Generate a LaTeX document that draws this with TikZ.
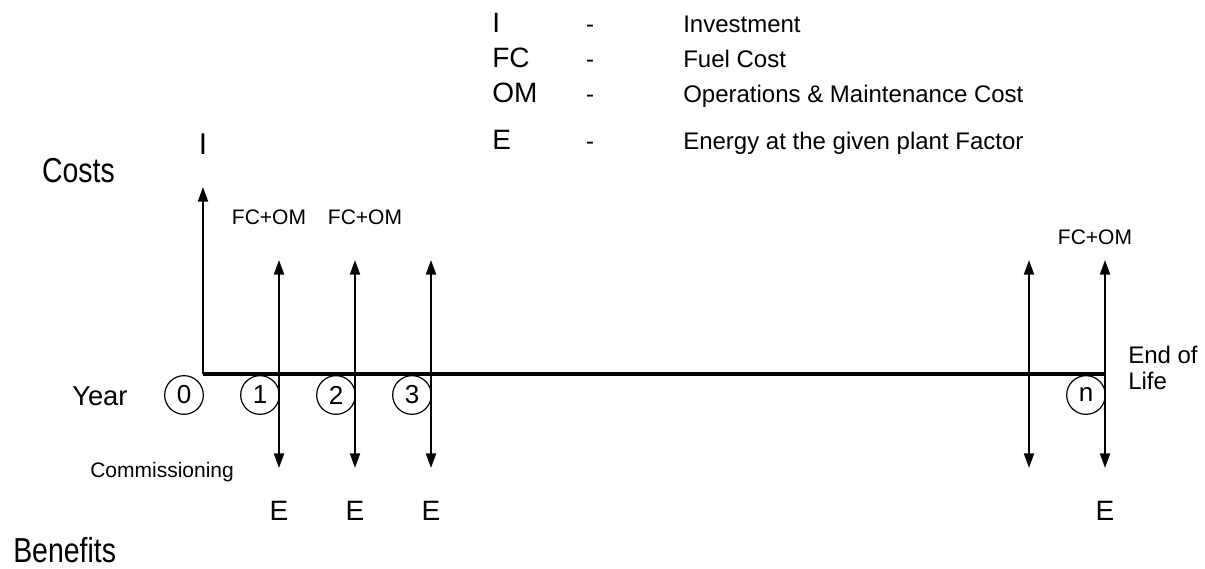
\documentclass[tikz,border=0pt]{standalone}
\usepackage{fontspec}
\setmainfont{Liberation Sans}
\newfontfamily\narrowfont{Liberation Sans}[FakeStretch=0.82]
\usetikzlibrary{arrows.meta,positioning,calc}

\begin{document}
\begin{tikzpicture}[x=0.75pt,y=0.75pt,every node/.style={inner sep=0pt},
  sm/.style={font=\fontsize{15.75}{18}\selectfont},
  md/.style={font=\fontsize{18}{21}\selectfont},
  lg/.style={font=\fontsize{21}{24}\selectfont},
  side/.style={font=\narrowfont\fontsize{26}{30}\selectfont},
  yr/.style={draw,circle,line width=0.9pt,minimum size=29pt,
    font=\fontsize{19.5}{22}\selectfont},
  flw/.style={line width=1.5pt,{Triangle[length=11pt,width=7.5pt]}-{Triangle[length=11pt,width=7.5pt]}},
  inv/.style={line width=1.5pt,-{Triangle[length=11pt,width=7.5pt]}},
  axs/.style={line width=3pt}]
\useasboundingbox (0,0) rectangle (1205,568);
% legend
\node[lg,anchor=base west] (k1) at (492,535) {I};
\node[lg,anchor=base west] (k2) at (492,500) {FC};
\node[lg,anchor=base west] (k3) at (492,465) {OM};
\node[lg,anchor=base west] (k4) at (492,418) {E};
\foreach \i/\y in {1/535,2/500,3/465,4/418}
  {\node[md,anchor=base] (h\i) at (590,\y) {-};}
\node[md,anchor=base west] (e1) at (683,535) {Investment};
\node[md,anchor=base west] (e2) at (683,500) {Fuel Cost};
\node[md,anchor=base west] (e3) at (683,465) {Operations \& Maintenance Cost};
\node[md,anchor=base west] (e4) at (683,418) {Energy at the given plant Factor};
% side labels
\node[side,anchor=base east] (costs) at (115,385) {Costs};
\node[side,anchor=base west] (benefits) at (13,6) {Benefits};
% time axis
\coordinate (o) at (203,194);
\coordinate (n) at (1105,194);
\coordinate (itop) at (203,381);
\draw[axs] (o) -- (n);
\draw[inv] (o) -- (itop);
\node[lg,anchor=base] (ilbl) at (203,413) {\fontsize{22.5}{26}\selectfont I};
\foreach \k/\x in {1/279,2/355,3/431,4/1029,5/1105} {
  \coordinate (t\k) at (\x,308);
  \coordinate (b\k) at (\x,100);
  \draw[flw] (b\k) -- (t\k);
}
% years
\node[font=\fontsize{20.5}{24}\selectfont,anchor=base west] (year) at (72,163) {Year};
\node[yr] (c0) at (184,173) {0};
\node[yr] (c1) at (260,173) {1};
\node[yr] (c2) at (336,173) {2};
\node[yr] (c3) at (412,173) {3};
\node[yr] (cn) at (1086,173) {n};
% flows
\node[sm,anchor=base] (f1) at (269,343) {FC+OM};
\node[sm,anchor=base] (f2) at (365,343) {FC+OM};
\node[sm,anchor=base] (f5) at (1095,323) {FC+OM};
\foreach \k/\x in {1/279,2/355,3/431,5/1105}
  {\node[lg,anchor=base] (en\k) at (\x,48) {E};}
\node[sm,anchor=base west] (comm) at (90,91) {Commissioning};
\node[md,anchor=base west] (eol1) at (1128,205) {End of};
\node[md,anchor=base west] (eol2) at (1128,179) {Life};
\end{tikzpicture}
\end{document}
